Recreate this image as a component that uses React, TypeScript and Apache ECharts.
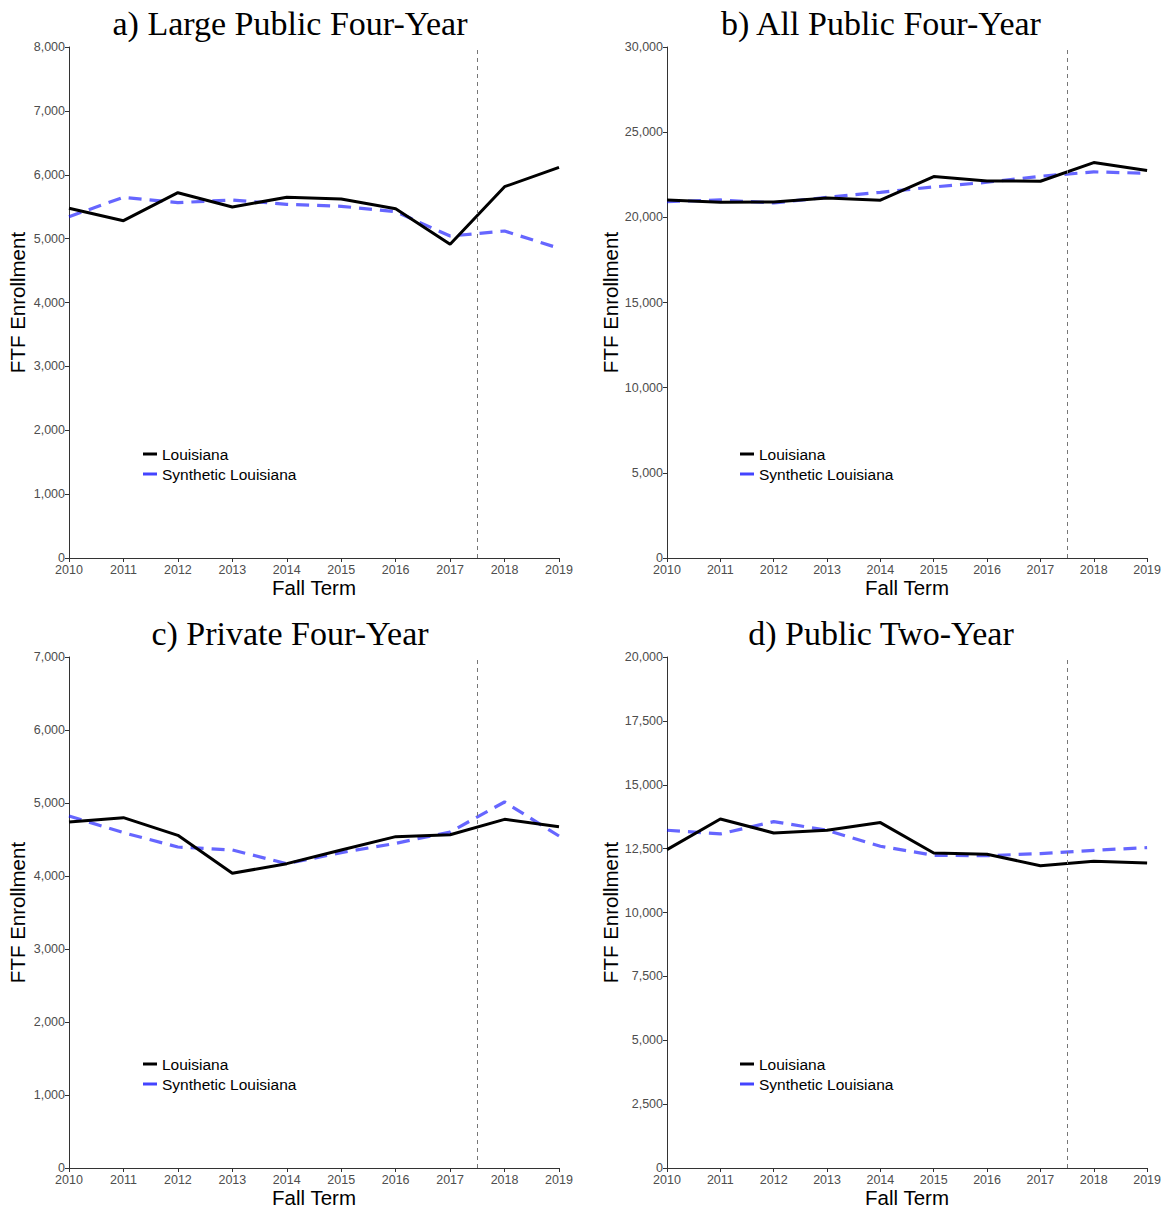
import React, { useEffect, useRef } from "react";
import * as echarts from "echarts";

const years = [2010, 2011, 2012, 2013, 2014, 2015, 2016, 2017, 2018, 2019];

const panelTitles = [
  "a) Large Public Four-Year",
  "b) All Public Four-Year",
  "c) Private Four-Year",
  "d) Public Two-Year",
];

const louisianaA = [5475, 5281, 5719, 5495, 5647, 5620, 5469, 4911, 5813, 6116];
const syntheticA = [5343, 5647, 5563, 5605, 5537, 5506, 5422, 5041, 5119, 4849];

const louisianaB = [21020, 20890, 20900, 21137, 21010, 22392, 22137, 22118, 23216, 22745];
const syntheticB = [20921, 21020, 20843, 21176, 21470, 21784, 22059, 22412, 22667, 22588];

const louisianaC = [4740, 4799, 4557, 4037, 4169, 4356, 4539, 4566, 4776, 4676];
const syntheticC = [4822, 4594, 4397, 4356, 4169, 4320, 4447, 4603, 5014, 4548];

const louisianaD = [12461, 13660, 13114, 13218, 13519, 12330, 12278, 11833, 12003, 11938];
const syntheticD = [13219, 13075, 13558, 13218, 12592, 12239, 12225, 12304, 12435, 12539];

const yMax = [8000, 30000, 7000, 20000];
const yInterval = [1000, 5000, 1000, 2500];

const treatmentYear = 2017.5;

const seriesNames = ["Louisiana", "Synthetic Louisiana"];

export default function App() {
  const ref = useRef<HTMLDivElement>(null);

  useEffect(() => {
    if (!ref.current) return;
    const chart = echarts.init(ref.current, null, { renderer: "svg" });

    const louisiana = [louisianaA, louisianaB, louisianaC, louisianaD];
    const synthetic = [syntheticA, syntheticB, syntheticC, syntheticD];

    const grids = [
      { left: 69, top: 47, width: 490, height: 511 },
      { left: 667, top: 47, width: 484, height: 511 },
      { left: 69, top: 657, width: 490, height: 511 },
      { left: 667, top: 657, width: 484, height: 511 },
    ];
    const titleCenters = [285, 876, 285, 876];
    const titleTops = [1, 1, 611, 611];

    const axisColor = "#333333";
    const labelColor = "#4d4d4d";
    const sans = "Liberation Sans, Arial, sans-serif";

    const xAxes = grids.map((_, i) => ({
      type: "value",
      gridIndex: i,
      min: 2010,
      max: 2019,
      interval: 1,
      name: "Fall Term",
      nameLocation: "middle",
      nameGap: 17,
      nameTextStyle: { fontFamily: sans, fontSize: 20.5, color: "#000" },
      axisLine: { show: true, lineStyle: { color: axisColor, width: 1 } },
      axisTick: { show: true, length: 4, lineStyle: { color: axisColor } },
      axisLabel: {
        fontFamily: sans,
        fontSize: 12.5,
        color: labelColor,
        margin: 5,
        formatter: (v: number) => String(v),
      },
      splitLine: { show: false },
    }));

    const yAxes = grids.map((_, i) => ({
      type: "value",
      gridIndex: i,
      min: 0,
      max: yMax[i],
      interval: yInterval[i],
      name: "FTF Enrollment",
      nameLocation: "middle",
      nameGap: 41,
      nameTextStyle: { fontFamily: sans, fontSize: 20.5, color: "#000" },
      axisLine: { show: true, lineStyle: { color: axisColor, width: 1 } },
      axisTick: { show: true, length: 4, lineStyle: { color: axisColor } },
      axisLabel: {
        fontFamily: sans,
        fontSize: 12.5,
        color: labelColor,
        margin: 4,
        formatter: (v: number) => v.toLocaleString("en-US"),
      },
      splitLine: { show: false },
    }));

    const series: any[] = [];
    for (let i = 0; i < 4; i++) {
      series.push({
        type: "line",
        name: seriesNames[0],
        xAxisIndex: i,
        yAxisIndex: i,
        data: years.map((y, k) => [y, louisiana[i][k]]),
        symbol: "none",
        z: 3,
        lineStyle: { color: "#000000", width: 3 },
        itemStyle: { color: "#000000" },
        markLine: {
          silent: true,
          symbol: "none",
          label: { show: false },
          lineStyle: { color: "#777777", width: 1, type: [4, 4] },
          data: [{ xAxis: treatmentYear }],
        },
      });
      series.push({
        type: "line",
        name: seriesNames[1],
        xAxisIndex: i,
        yAxisIndex: i,
        data: years.map((y, k) => [y, synthetic[i][k]]),
        symbol: "none",
        z: 2,
        lineStyle: { color: "rgba(0,0,255,0.6)", width: 3.2, type: [13, 8] },
        itemStyle: { color: "#4444ff" },
      });
    }

    const legendPos = [
      { left: 138, top: 441 },
      { left: 735, top: 441 },
      { left: 138, top: 1051 },
      { left: 735, top: 1051 },
    ];

    const legends = legendPos.map((p) => ({
      left: p.left,
      top: p.top,
      orient: "vertical",
      itemWidth: 14,
      itemHeight: 3,
      itemGap: 4,
      selectedMode: false,
      textStyle: { fontFamily: sans, fontSize: 15.5, color: "#000", lineHeight: 15, padding: [0, 0, 0, 0] },
      data: [
        { name: seriesNames[0], icon: "rect", itemStyle: { color: "#000000" } },
        { name: seriesNames[1], icon: "rect", itemStyle: { color: "#4444ff" } },
      ],
    }));

    const titles = panelTitles.map((t, i) => ({
      text: t,
      left: titleCenters[i],
      top: titleTops[i],
      textAlign: "center",
      textStyle: {
        fontFamily: "Liberation Serif, Times New Roman, serif",
        fontSize: 34,
        fontWeight: "normal",
        color: "#000",
      },
    }));

    chart.setOption({
      animation: false,
      backgroundColor: "#ffffff",
      title: titles,
      legend: legends,
      grid: grids,
      xAxis: xAxes,
      yAxis: yAxes,
      series,
    });

    return () => chart.dispose();
  }, []);

  return (
    <div
      ref={ref}
      style={{ position: "fixed", left: 0, top: 0, width: 1164, height: 1209, background: "#fff" }}
    />
  );
}
